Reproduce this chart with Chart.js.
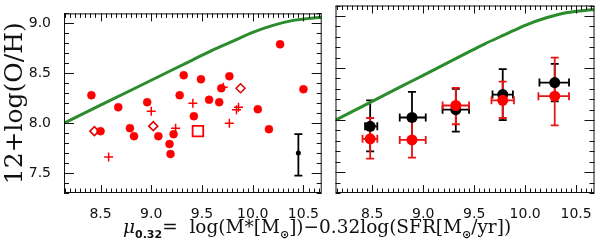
<!DOCTYPE html>
<html>
<head>
<meta charset="utf-8">
<script src="https://cdn.jsdelivr.net/npm/chart.js@4.4.0/dist/chart.umd.min.js"></script>
<style>
  body { margin: 0; background: #fff; width: 600px; height: 242px; overflow: hidden; position: relative; }
  #c1 { position: absolute; left: 0; top: 0; }
  #c2 { position: absolute; left: 330px; top: 0; }
  #xtitle {
    position: absolute; left: 123px; top: 216px; white-space: nowrap;
    font-family: "DejaVu Serif", serif; font-size: 18.5px; color: #111;
  }
  #xtitle sub { font-size: 11px; font-family: "DejaVu Sans", sans-serif; font-weight: bold; }
</style>
</head>
<body>
<canvas id="c1" width="331" height="242"></canvas>
<canvas id="c2" width="270" height="242"></canvas>
<div id="xtitle"><i>μ</i><sub>0.32</sub>=&nbsp; log(M*[M<sub>⊙</sub>])−0.32log(SFR[M<sub>⊙</sub>/yr])</div>
<script>
// axis limits and tick labels
const xMin = 8.14, xMax = 10.68;
const yMin = 7.3, yMax = 9.1;
const xTickVals = [8.5, 9.0, 9.5, 10.0, 10.5];
const yTickVals = [7.5, 8.0, 8.5, 9.0];

// green model curve (same in both panels)
const curveX = [8.14, 8.4, 8.6, 8.8, 9.0, 9.2, 9.4, 9.6, 9.8, 10.0, 10.2, 10.4, 10.6, 10.68];
const curveY = [8.00, 8.13, 8.23, 8.33, 8.43, 8.53, 8.63, 8.73, 8.82, 8.91, 8.98, 9.03, 9.055, 9.06];

// left panel: individual galaxies
const circX = [8.41, 8.50, 8.675, 8.79, 8.83, 8.96, 9.07, 9.18, 9.19, 9.22, 9.28, 9.32, 9.42, 9.49, 9.57, 9.67, 9.69, 9.77, 10.05, 10.16, 10.27, 10.50];
const circY = [8.28, 7.92, 8.16, 7.95, 7.87, 8.21, 7.87, 7.79, 7.69, 7.89, 8.28, 8.48, 8.07, 8.44, 8.235, 8.21, 8.35, 8.47, 8.14, 7.94, 8.79, 8.34];
const plusX = [8.58, 9.00, 9.24, 9.41, 9.71, 9.77, 9.84, 9.86];
const plusY = [7.66, 8.12, 7.95, 8.20, 8.36, 8.00, 8.135, 8.16];
const diaX = [8.44, 9.02, 9.88];
const diaY = [7.92, 7.97, 8.35];
const sqX = [9.46];
const sqY = [7.92];
// typical error bar
const typX = [10.45], typY = [7.70], typLo = [7.475], typHi = [7.89];

// right panel: binned medians
const binX = [8.48, 8.89, 9.32, 9.78, 10.29];
const blackY = [7.94, 8.025, 8.10, 8.245, 8.36];
const blackYLo = [7.70, 7.78, 7.89, 8.00, 8.18];
const blackYHi = [8.19, 8.27, 8.30, 8.49, 8.54];
const blackXLo = [8.43, 8.77, 9.19, 9.68, 10.14];
const blackXHi = [8.55, 9.025, 9.45, 9.88, 10.43];
const redY = [7.82, 7.81, 8.14, 8.19, 8.23];
const redYLo = [7.63, 7.64, 7.96, 8.02, 7.95];
const redYHi = [8.02, 7.99, 8.31, 8.37, 8.60];
const redXLo = [8.405, 8.77, 9.19, 9.67, 10.13];
const redXHi = [8.55, 9.025, 9.45, 9.89, 10.43];

const green = '#2a8c2a';
const red = '#ff0000';

function pts(xs, ys) {
  return xs.map((x, i) => ({ x: x, y: ys[i] }));
}

// frame + inward tick marks, IDL style
const frameTicks = {
  id: 'frameTicks',
  afterDraw(chart) {
    const ctx = chart.ctx, a = chart.chartArea;
    const xs = chart.scales.x, ys = chart.scales.y;
    ctx.save();
    ctx.strokeStyle = '#111';
    ctx.lineWidth = 1;
    ctx.strokeRect(a.left + 0.5, a.top + 0.5, a.right - a.left - 1, a.bottom - a.top - 1);
    for (let k = Math.ceil(xMin * 20); k <= Math.floor(xMax * 20); k++) {
      const px = Math.round(xs.getPixelForValue(k / 20)) + 0.5;
      const len = (k % 10 === 0) ? 8 : 4.5;
      ctx.beginPath();
      ctx.moveTo(px, a.bottom); ctx.lineTo(px, a.bottom - len);
      ctx.moveTo(px, a.top); ctx.lineTo(px, a.top + len);
      ctx.stroke();
    }
    for (let k = Math.ceil(yMin * 10); k <= Math.floor(yMax * 10); k++) {
      const py = Math.round(ys.getPixelForValue(k / 10)) + 0.5;
      const len = (k % 5 === 0) ? 10 : 5;
      ctx.beginPath();
      ctx.moveTo(a.left, py); ctx.lineTo(a.left + len, py);
      ctx.moveTo(a.right, py); ctx.lineTo(a.right - len, py);
      ctx.stroke();
    }
    ctx.restore();
  }
};

function errBars(sets) {
  return {
    id: 'errBars',
    beforeDatasetsDraw(chart) {
      const ctx = chart.ctx, xs = chart.scales.x, ys = chart.scales.y;
      ctx.save();
      sets.forEach(s => {
        ctx.strokeStyle = s.color;
        ctx.lineWidth = 1.8;
        ctx.beginPath();
        s.x.forEach((xv, i) => {
          const px = xs.getPixelForValue(xv), py = ys.getPixelForValue(s.y[i]);
          if (s.ylo) {
            const y1 = ys.getPixelForValue(s.ylo[i]), y2 = ys.getPixelForValue(s.yhi[i]);
            ctx.moveTo(px, y1); ctx.lineTo(px, y2);
            ctx.moveTo(px - 4, y1); ctx.lineTo(px + 4, y1);
            ctx.moveTo(px - 4, y2); ctx.lineTo(px + 4, y2);
          }
          if (s.xlo) {
            const x1 = xs.getPixelForValue(s.xlo[i]), x2 = xs.getPixelForValue(s.xhi[i]);
            ctx.moveTo(x1, py); ctx.lineTo(x2, py);
            ctx.moveTo(x1, py - 4); ctx.lineTo(x1, py + 4);
            ctx.moveTo(x2, py - 4); ctx.lineTo(x2, py + 4);
          }
        });
        ctx.stroke();
      });
      ctx.restore();
    }
  };
}

function makeScales(showY) {
  return {
    x: {
      type: 'linear', min: xMin, max: xMax,
      grid: { display: false }, border: { display: false },
      afterBuildTicks: s => { s.ticks = xTickVals.map(v => ({ value: v })); },
      afterFit: s => { s.height = 49; },
      ticks: {
        padding: 5, color: '#111', maxRotation: 0,
        font: { family: 'DejaVu Sans', size: 14 },
        callback: v => v.toFixed(1)
      }
    },
    y: {
      type: 'linear', min: yMin, max: yMax,
      grid: { display: false }, border: { display: false },
      afterBuildTicks: s => { s.ticks = yTickVals.map(v => ({ value: v })); },
      afterFit: s => { s.width = showY ? 64 : 0; },
      ticks: {
        display: showY, padding: 5, color: '#111',
        font: { family: 'DejaVu Sans', size: 14 },
        callback: v => v.toFixed(1)
      },
      title: {
        display: showY, text: '12+log(O/H)', color: '#111',
        font: { family: 'DejaVu Serif', size: 25 },
        padding: 0
      }
    }
  };
}

const curveSet = {
  data: pts(curveX, curveY), showLine: true, borderColor: green, borderWidth: 3,
  pointRadius: 0, cubicInterpolationMode: 'monotone'
};

new Chart(document.getElementById('c1'), {
  type: 'scatter',
  data: {
    datasets: [
      curveSet,
      { data: pts(circX, circY), pointStyle: 'circle', pointRadius: 4, backgroundColor: red, borderColor: red, borderWidth: 0.5 },
      { data: pts(plusX, plusY), pointStyle: 'cross', pointRadius: 4.5, borderColor: red, borderWidth: 1.5 },
      { data: pts(diaX, diaY), pointStyle: 'rectRot', pointRadius: 4.5, backgroundColor: 'rgba(0,0,0,0)', borderColor: '#e00000', borderWidth: 1.5 },
      { data: pts(sqX, sqY), pointStyle: 'rect', pointRadius: 7.5, backgroundColor: 'rgba(0,0,0,0)', borderColor: red, borderWidth: 1.8 },
      { data: pts(typX, typY), pointStyle: 'circle', pointRadius: 2.5, backgroundColor: '#000', borderColor: '#000', borderWidth: 0 }
    ]
  },
  options: {
    responsive: false, animation: false,
    layout: { padding: { top: 3, right: 1, left: 0, bottom: 0 } },
    plugins: { legend: { display: false }, tooltip: { enabled: false } },
    scales: makeScales(true)
  },
  plugins: [errBars([{ x: typX, y: typY, ylo: typLo, yhi: typHi, color: '#000' }]), frameTicks]
});

new Chart(document.getElementById('c2'), {
  type: 'scatter',
  data: {
    datasets: [
      curveSet,
      { data: pts(binX, redY), pointStyle: 'circle', pointRadius: 5.5, backgroundColor: red, borderColor: red, borderWidth: 0 },
      { data: pts(binX, blackY), pointStyle: 'circle', pointRadius: 5.5, backgroundColor: '#000', borderColor: '#000', borderWidth: 0 }
    ]
  },
  options: {
    responsive: false, animation: false,
    layout: { padding: { top: 3, right: 1.5, left: 0, bottom: 0 } },
    plugins: { legend: { display: false }, tooltip: { enabled: false } },
    scales: makeScales(false)
  },
  plugins: [errBars([
    { x: binX, y: blackY, ylo: blackYLo, yhi: blackYHi, xlo: blackXLo, xhi: blackXHi, color: '#000' },
    { x: binX, y: redY, ylo: redYLo, yhi: redYHi, xlo: redXLo, xhi: redXHi, color: 'rgb(235,20,20)' }
  ]), frameTicks]
});
</script>
</body>
</html>
